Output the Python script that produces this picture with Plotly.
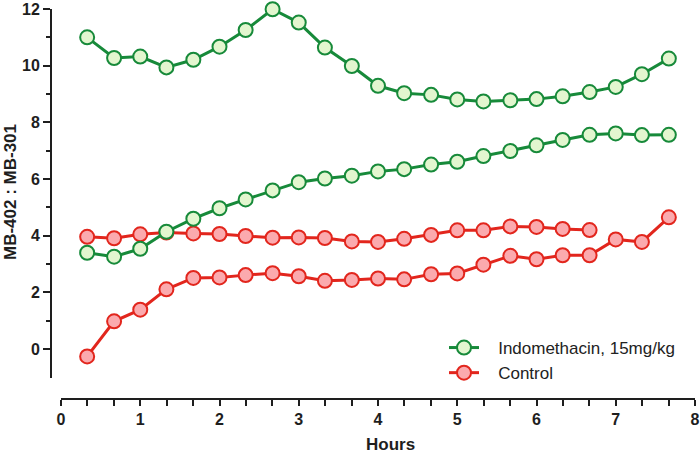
import plotly.graph_objects as go

hours = [0.33, 0.67, 1.0, 1.33, 1.67, 2.0, 2.33, 2.67, 3.0, 3.33, 3.67, 4.0,
         4.33, 4.67, 5.0, 5.33, 5.67, 6.0, 6.33, 6.67, 7.0, 7.33, 7.67]

indo_upper = [11.0, 10.27, 10.32, 9.94, 10.21, 10.67, 11.26, 11.99, 11.52, 10.64, 9.99, 9.29,
              9.03, 8.97, 8.81, 8.74, 8.78, 8.82, 8.92, 9.07, 9.25, 9.70, 10.25]
indo_lower = [3.40, 3.26, 3.54, 4.14, 4.60, 4.97, 5.28, 5.60, 5.89, 6.02, 6.12, 6.27,
              6.35, 6.51, 6.61, 6.81, 6.99, 7.19, 7.38, 7.56, 7.61, 7.55, 7.56]
ctrl_upper = [3.96, 3.91, 4.05, 4.11, 4.08, 4.06, 3.99, 3.93, 3.94, 3.92, 3.80, 3.78,
              3.89, 4.03, 4.19, 4.19, 4.33, 4.31, 4.24, 4.20]
ctrl_lower = [-0.26, 0.98, 1.39, 2.11, 2.51, 2.53, 2.61, 2.68, 2.57, 2.41, 2.44, 2.49,
              2.46, 2.64, 2.67, 2.98, 3.29, 3.17, 3.31, 3.31, 3.87, 3.78, 4.65]

y_ticks = [0, 2, 4, 6, 8, 10, 12]
y_minor = [1, 3, 5, 7, 9, 11]
x_ticks = [0, 1, 2, 3, 4, 5, 6, 7, 8]

GREEN = "#178a3a"
GREEN_FILL = "#e3f6cf"
RED = "#e2261d"
RED_FILL = "#fbaaae"
AXIS = "#1e1e1e"
FONT = "Liberation Sans, Arial, sans-serif"

fig = go.Figure()

def add(y, name, color, fill, show):
    fig.add_trace(go.Scatter(
        x=hours[:len(y)], y=y, mode="lines+markers", name=name,
        legendgroup=name, showlegend=show, cliponaxis=False,
        line=dict(color=color, width=3),
        marker=dict(size=14, color=fill, line=dict(color=color, width=2)),
    ))

add(ctrl_lower, "Control", RED, RED_FILL, False)
add(ctrl_upper, "\u00a0\u00a0\u00a0Control", RED, RED_FILL, True)
add(indo_lower, "Indomethacin, 15mg/kg", GREEN, GREEN_FILL, False)
add(indo_upper, "\u00a0\u00a0\u00a0Indomethacin, 15mg/kg", GREEN, GREEN_FILL, True)

# layout geometry (pixels)
W, H = 700, 460
ML, MR, MT, MB = 51, 5, 9, 61
PW = W - ML - MR
PH = H - MT - MB
x0_px = 61
ybot_px = 378

fig.update_layout(
    width=W, height=H,
    margin=dict(l=ML, r=MR, t=MT, b=MB, autoexpand=False),
    plot_bgcolor="white", paper_bgcolor="white",
    font=dict(family=FONT, color=AXIS),
    xaxis=dict(
        domain=[(x0_px - ML) / PW, 1], range=[0, 8],
        anchor="free", position=0, automargin=False,
        showgrid=False, zeroline=False,
        showline=True, linecolor=AXIS, linewidth=2,
        tickmode="array", tickvals=x_ticks,
        ticks="outside", ticklen=6, tickwidth=2, tickcolor=AXIS,
        tickfont=dict(size=16, family=FONT, weight="bold"),
        minor=dict(dtick=1/3, tick0=0, ticks="outside", ticklen=6, tickwidth=2, tickcolor=AXIS),
    ),
    yaxis=dict(
        domain=[(H - MB - ybot_px) / PH, 1], range=[-1.02, 12],
        anchor="free", position=0, automargin=False,
        showgrid=False, zeroline=False,
        showline=True, linecolor=AXIS, linewidth=2,
        tickmode="array", tickvals=y_ticks,
        ticks="outside", ticklen=7, tickwidth=2, tickcolor=AXIS,
        tickfont=dict(size=16, family=FONT, weight="bold"),
        minor=dict(tickmode="array", tickvals=y_minor, ticks="outside", ticklen=4,
                   tickwidth=2, tickcolor=AXIS),
    ),
    legend=dict(
        x=(444 - ML) / PW, y=(H - MB - 330) / PH, xanchor="left", yanchor="top",
        traceorder="reversed", bgcolor="rgba(0,0,0,0)",
        font=dict(size=17, color="#222222", family=FONT),
    ),
    showlegend=True,
    annotations=[
        dict(text="<b>Hours</b>", xref="paper", yref="paper",
             x=(390 - ML) / PW, y=(H - MB - 444) / PH, xanchor="center", yanchor="middle",
             showarrow=False, font=dict(size=17, color=AXIS)),
        dict(text="<b>MB-402 : MB-301</b>", xref="paper", yref="paper", textangle=-90,
             x=(10 - ML) / PW, y=(H - MB - 192) / PH, xanchor="center", yanchor="middle",
             showarrow=False, font=dict(size=17, color=AXIS)),
    ],
)

fig.write_html("out.html", config={"displayModeBar": False},
               post_script="document.body.style.margin='0';")
